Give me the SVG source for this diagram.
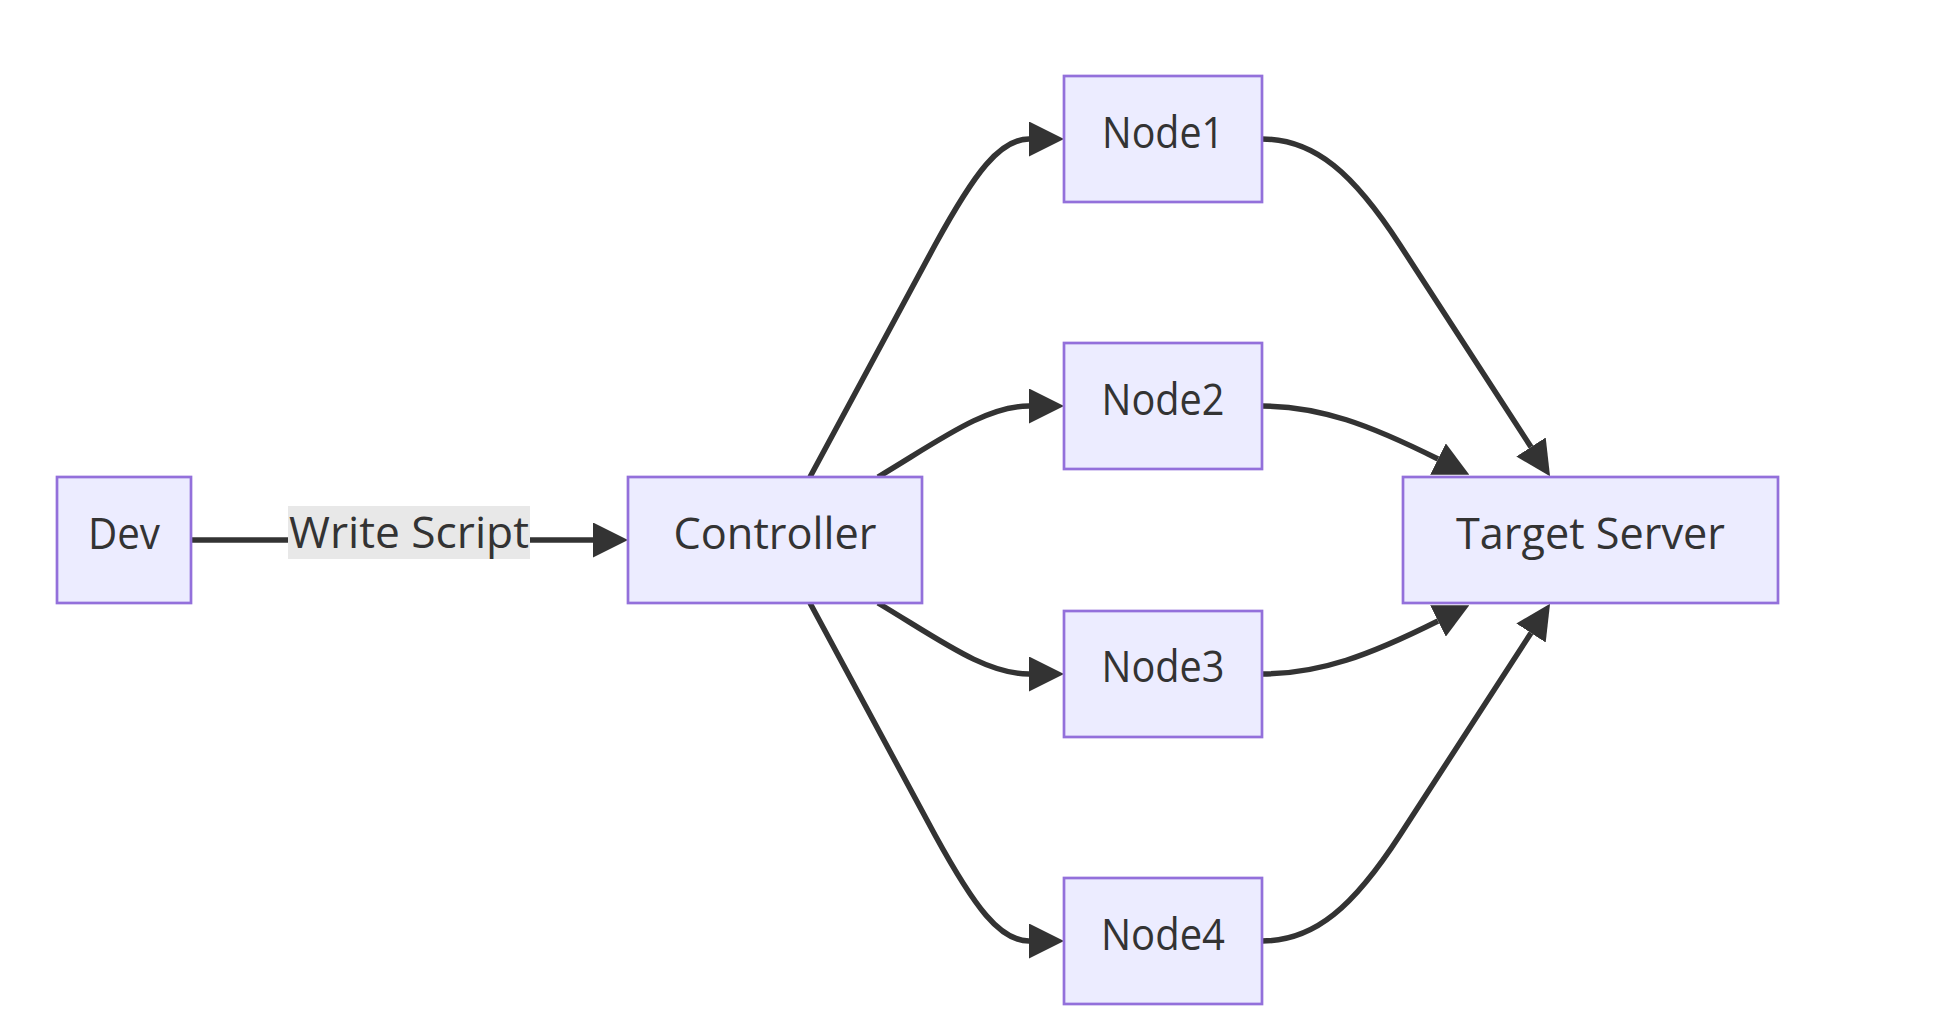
<svg xmlns="http://www.w3.org/2000/svg" width="1959" height="1026" viewBox="0 0 1959 1026">
<style>
.node rect{fill:#ECECFF;stroke:#9370DB;stroke-width:2.7}
.node text,.lbl text{font-family:"Open Sans","Liberation Sans",sans-serif;font-size:44px;fill:#333;text-anchor:middle}
.edge{fill:none;stroke:#333;stroke-width:5.5}
.lbl rect{fill:#e8e8e8}
</style>
<defs>
<marker id="arr" viewBox="0 0 10 10" refX="0" refY="5" markerWidth="35" markerHeight="35" markerUnits="userSpaceOnUse" orient="auto">
<path d="M0,0 L10,5 L0,10 z" fill="#333"/>
</marker>
</defs>
<rect width="1959" height="1026" fill="#fff"/>
<g id="edges">
<path class="edge" d="M191,540 L593,540" marker-end="url(#arr)"/>
<path class="edge" d="M810,477 L935,245 C975,172 1000,139 1029,139" marker-end="url(#arr)"/>
<path class="edge" d="M878,477 C940,440 985,406 1029,406" marker-end="url(#arr)"/>
<path class="edge" d="M878,603 C940,640 985,674 1029,674" marker-end="url(#arr)"/>
<path class="edge" d="M810,603 L935,835 C975,908 1000,941 1029,941" marker-end="url(#arr)"/>
<path class="edge" d="M1262,139 C1315,139 1354,174 1400,245 L1531,447" marker-end="url(#arr)"/>
<path class="edge" d="M1262,406 C1320,406 1370,425 1438,459" marker-end="url(#arr)"/>
<path class="edge" d="M1262,674 C1320,674 1370,655 1438,621" marker-end="url(#arr)"/>
<path class="edge" d="M1262,941 C1315,941 1354,906 1400,835 L1531,633" marker-end="url(#arr)"/>
<g class="lbl">
<rect x="288" y="506" width="242" height="53"/>
<text x="409" y="548" textLength="240" lengthAdjust="spacingAndGlyphs">Write Script</text>
</g>
</g>
<g id="dev" class="node">
<rect x="57" y="477" width="134" height="126"/>
<text x="124" y="549" textLength="72" lengthAdjust="spacingAndGlyphs">Dev</text>
</g>
<g id="controller" class="node">
<rect x="628" y="477" width="294" height="126"/>
<text x="775" y="549" textLength="203" lengthAdjust="spacingAndGlyphs">Controller</text>
</g>
<g id="node1" class="node">
<rect x="1064" y="76" width="198" height="126"/>
<text x="1163" y="148" textLength="122" lengthAdjust="spacingAndGlyphs">Node1</text>
</g>
<g id="node2" class="node">
<rect x="1064" y="343" width="198" height="126"/>
<text x="1163" y="415" textLength="123" lengthAdjust="spacingAndGlyphs">Node2</text>
</g>
<g id="node3" class="node">
<rect x="1064" y="611" width="198" height="126"/>
<text x="1163" y="682" textLength="123" lengthAdjust="spacingAndGlyphs">Node3</text>
</g>
<g id="node4" class="node">
<rect x="1064" y="878" width="198" height="126"/>
<text x="1163" y="950" textLength="124" lengthAdjust="spacingAndGlyphs">Node4</text>
</g>
<g id="target" class="node">
<rect x="1403" y="477" width="375" height="126"/>
<text x="1590.5" y="549" textLength="269" lengthAdjust="spacingAndGlyphs">Target Server</text>
</g>
</svg>
